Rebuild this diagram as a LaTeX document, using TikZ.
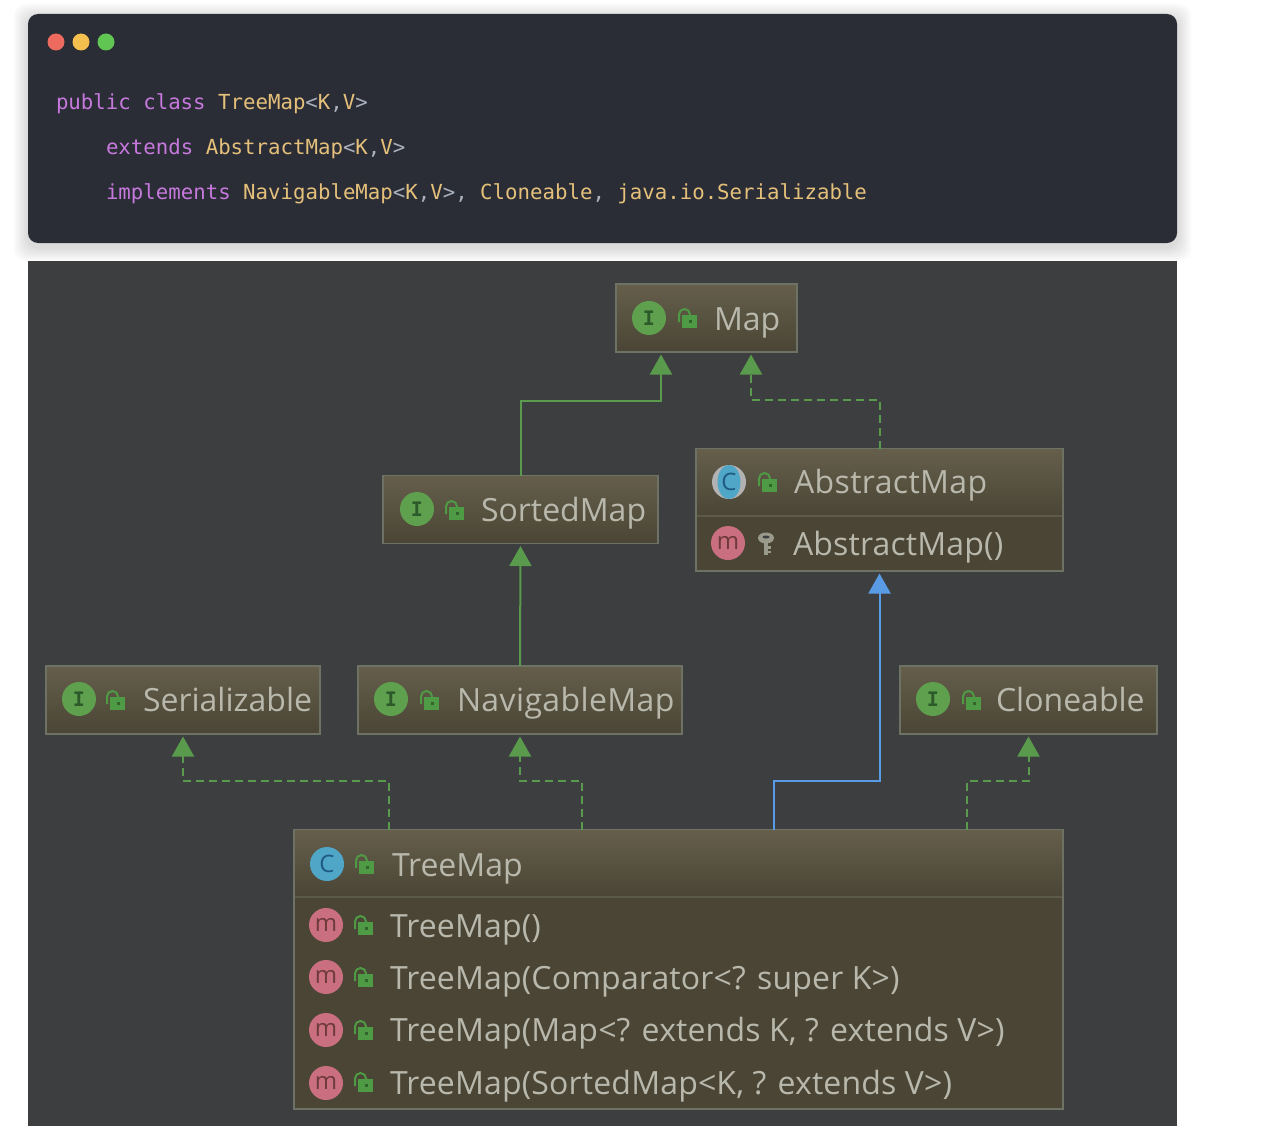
\documentclass[tikz,border=0pt]{standalone}
\usepackage{fontspec}
\setmainfont{Open Sans}
\newfontfamily\codefont{DejaVu Sans Mono}
\usetikzlibrary{arrows.meta}
\definecolor{cardbg}{HTML}{2A2D35}
\definecolor{panelbg}{HTML}{3C3E40}
\definecolor{boxtop}{HTML}{655E4B}
\definecolor{boxbottom}{HTML}{4A4535}
\definecolor{boxline}{HTML}{6E7265}
\definecolor{dividerline}{HTML}{5C5A4A}
\definecolor{labeltext}{HTML}{B8B8AC}
\definecolor{keyword}{HTML}{C678DD}
\definecolor{typename}{HTML}{E5C07B}
\definecolor{punct}{HTML}{ABB2BF}
\definecolor{edgegreen}{HTML}{5A9A4C}
\definecolor{edgeblue}{HTML}{5A9BE6}
\definecolor{lockgreen}{HTML}{4F9A45}
\definecolor{ifacefill}{HTML}{5FA04E}
\definecolor{ifaceletter}{HTML}{2C5A2A}
\definecolor{clsfill}{HTML}{4FA6C6}
\definecolor{clsletter}{HTML}{1F5A80}
\definecolor{methfill}{HTML}{C96F80}
\definecolor{methletter}{HTML}{6E3A3A}
\definecolor{keygray}{HTML}{9A9A8C}
\newcommand{\kw}[1]{\textcolor{keyword}{#1}}
\newcommand{\ty}[1]{\textcolor{typename}{#1}}
\newcommand{\pu}[1]{\textcolor{punct}{#1}}
\begin{document}
\begin{tikzpicture}[
    x=1pt, y=-1pt,
    outer sep=0pt,
    box/.style={draw=boxline, line width=1.5pt, top color=boxtop, bottom color=boxbottom, minimum height=68pt, inner sep=0pt},
    body/.style={draw=boxline, line width=1.5pt, fill=boxbottom, inner sep=0pt},
    head/.style={top color=boxtop, bottom color=boxbottom, minimum height=66pt, inner sep=0pt},
    divider/.style={draw=dividerline, line width=1.5pt},
    label/.style={anchor=base west, inner sep=0pt, text=labeltext, font=\fontsize{32}{36}\selectfont},
    label wide/.style={label, font=\fontsize{32}{36}\selectfont\addfontfeature{LetterSpace=1.2}},
    label ctor/.style={label, font=\fontsize{32}{36}\selectfont\addfontfeature{LetterSpace=0.5}},
    code/.style={anchor=base west, inner sep=0pt, font=\codefont\fontsize{20.72}{24}\selectfont},
    dot/.style={circle, minimum size=17pt, inner sep=0pt},
    icon/.style={circle, minimum size=34pt, inner sep=0pt, font=\fontsize{24}{26}\selectfont},
    iface/.style={icon, fill=ifacefill, text=ifaceletter, font=\codefont\bfseries\fontsize{20}{24}\selectfont},
    cls/.style={icon, fill=clsfill, text=clsletter},
    meth/.style={icon, fill=methfill, text=methletter},
    extendsline/.style={draw=edgegreen, line width=2pt, -{Triangle[width=22pt,length=20pt]}, shorten >=2.5pt},
    implline/.style={extendsline, dash pattern=on 8pt off 5pt},
    classline/.style={extendsline, draw=edgeblue},
    lock/.pic={
      \fill[lockgreen] (-6,-4) rectangle (9,9);
      \fill[lockgreen!65!black] (0.5,1) rectangle (3.5,4);
      \draw[lockgreen, line width=2pt] (-9,3) -- (-9,-4.5) arc[start angle=180, end angle=0, x radius=5.5, y radius=-5.5] -- (2,-3);
    },
    keyicon/.pic={
      \fill[keygray] (0,-5) ellipse[x radius=8, y radius=5.5];
      \fill[panelbg] (0,-6) ellipse[x radius=3.5, y radius=1.5];
      \fill[keygray] (-2.5,-1) rectangle (2,12);
      \fill[keygray] (2,3) rectangle (5,5.5);
      \fill[keygray] (2,7.5) rectangle (5,10);
    }
    ]
    \useasboundingbox (0,0) rectangle (1286,1148);
    \fill[white] (0,0) rectangle (1286,1148);

    % code card
    \foreach \s in {14,12,...,2}
      \fill[black, opacity=0.018, rounded corners=12pt] (28-\s,14-\s+4) rectangle (1177+\s,243+\s+4);
    \node[fill=cardbg, rounded corners=10pt, minimum width=1149pt, minimum height=229pt, inner sep=0pt] (card) at (602.5,128.5) {};
    \node[dot, fill={rgb,255:red,236;green,106;blue,94}] (dotred) at (56,42) {};
    \node[dot, fill={rgb,255:red,244;green,191;blue,79}] (dotyellow) at (81,42) {};
    \node[dot, fill={rgb,255:red,97;green,197;blue,84}] (dotgreen) at (106,42) {};
    \node[code] (line1) at (56,110) {\kw{public class} \ty{TreeMap}\pu{<}\ty{K}\pu{,}\ty{V}\pu{>}};
    \node[code] (line2) at (106,154.5) {\kw{extends} \ty{AbstractMap}\pu{<}\ty{K}\pu{,}\ty{V}\pu{>}};
    \node[code] (line3) at (106,199) {\kw{implements} \ty{NavigableMap}\pu{<}\ty{K}\pu{,}\ty{V}\pu{>, }\ty{Cloneable}\pu{, }\ty{java.io.Serializable}};

    % diagram
    \fill[panelbg] (28,261) rectangle (1177,1126);

    \node[box, minimum width=181pt] (map) at (706.5,318) {};
    \node[box, minimum width=275pt] (sortedmap) at (520.5,509.5) {};
    \node[body, minimum width=367pt, minimum height=122pt] (abstractmap) at (879.5,510) {};
    \node[head, minimum width=365pt, anchor=north] (abstracthead) at ([yshift=-0.75pt]abstractmap.north) {};
    \draw[divider] (abstracthead.south west) -- (abstracthead.south east);
    \node[box, minimum width=274pt] (serializable) at (183,700) {};
    \node[box, minimum width=324pt] (navigablemap) at (520,700) {};
    \node[box, minimum width=257pt] (cloneable) at (1028.5,700) {};
    \node[body, minimum width=769pt, minimum height=279pt] (treemap) at (678.5,969.5) {};
    \node[head, minimum width=767pt, anchor=north] (treehead) at ([yshift=-0.75pt]treemap.north) {};
    \draw[divider] (treehead.south west) -- (treehead.south east);

    \node[iface] (mapicon) at (649,318) {I};
    \node[iface] (sortedicon) at (417,509) {I};
    \node[iface] (serialicon) at (79,699) {I};
    \node[iface] (navicon) at (391,699) {I};
    \node[iface] (cloneicon) at (933,699) {I};
    \node[icon, fill=gray!60!white] (abstracticon) at (729,482) {};
    \fill[clsfill] (abstracticon.center) ellipse[x radius=11.5, y radius=17];
    \node[inner sep=0pt, text=clsletter, font=\fontsize{24}{26}\selectfont] (abstractletter) at (abstracticon.center) {C};
    \node[meth] (abstractctor) at (728,543) {m};
    \node[cls] (treeicon) at (327,864) {C};
    \node[meth] (ctor1) at (326,925) {m};
    \node[meth] (ctor2) at (326,977) {m};
    \node[meth] (ctor3) at (326,1030) {m};
    \node[meth] (ctor4) at (326,1083) {m};

    \pic at (688,319) {lock};
    \pic at (455,511) {lock};
    \pic at (116,701) {lock};
    \pic at (430,701) {lock};
    \pic at (972,701) {lock};
    \pic at (768,483) {lock};
    \pic at (365,865) {lock};
    \pic at (364,926) {lock};
    \pic at (364,978) {lock};
    \pic at (364,1031) {lock};
    \pic at (364,1083) {lock};
    \pic at (766,543) {keyicon};

    \node[label] (maplabel) at (714,330) {Map};
    \node[label] (sortedlabel) at (481,521) {SortedMap};
    \node[label wide] (abstractlabel) at (794,493) {AbstractMap};
    \node[label ctor] (abstractctorlabel) at (793,555) {AbstractMap()};
    \node[label] (seriallabel) at (143,711) {Serializable};
    \node[label wide] (navlabel) at (457,711) {NavigableMap};
    \node[label] (clonelabel) at (996,711) {Cloneable};
    \node[label] (treelabel) at (392,876) {TreeMap};
    \node[label ctor] (ctor1label) at (390,937) {TreeMap()};
    \node[label ctor] (ctor2label) at (390,989) {TreeMap(Comparator<? super K>)};
    \node[label ctor] (ctor3label) at (390,1041) {TreeMap(Map<? extends K, ? extends V>)};
    \node[label ctor] (ctor4label) at (390,1094) {TreeMap(SortedMap<K, ? extends V>)};

    \draw[extendsline] (sortedmap.north) -- ++(0,-75) -| ([xshift=-45.5pt]map.south);
    \draw[implline] (abstractmap.north) -- ++(0,-49) -| ([xshift=44.5pt]map.south);
    \draw[extendsline] (navigablemap.north) -- (sortedmap.south);
    \draw[classline] ([xshift=95.5pt]treemap.north) -- ++(0,-49) -| (abstractmap.south);
    \draw[implline] ([xshift=-289.5pt]treemap.north) -- ++(0,-49) -| (serializable.south);
    \draw[implline] ([xshift=-96.5pt]treemap.north) -- ++(0,-49) -| (navigablemap.south);
    \draw[implline] ([xshift=288.5pt]treemap.north) -- ++(0,-49) -| (cloneable.south);
\end{tikzpicture}
\end{document}
